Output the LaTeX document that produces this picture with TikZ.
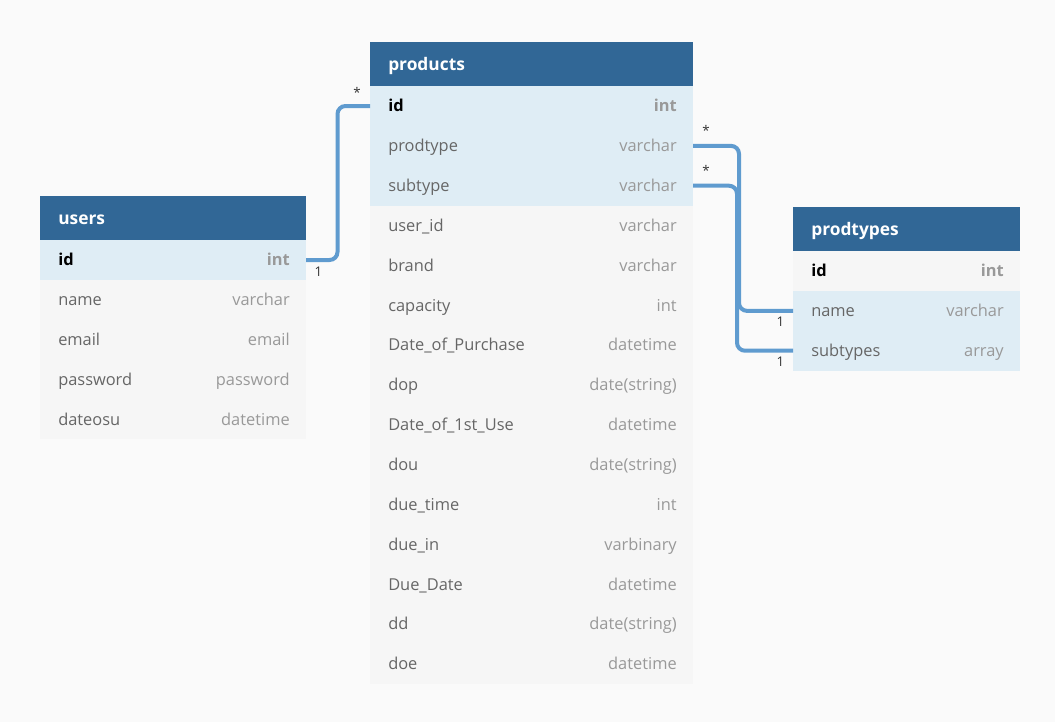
\documentclass[tikz,border=0pt]{standalone}
\usepackage{fontspec}
\setmainfont{Open Sans}
\usetikzlibrary{calc}
\definecolor{hdrc}{HTML}{316796}
\definecolor{hl}{HTML}{DFEDF5}
\definecolor{nr}{HTML}{F6F6F6}
\definecolor{bgc}{HTML}{FAFAFA}
\definecolor{linec}{HTML}{5F9BCF}
\definecolor{namec}{HTML}{666666}
\definecolor{typec}{HTML}{999999}
\newcommand\dbtbl[6]{%
  \node[hdrbox, minimum width=#4] (#1-hdr) at (#2,#3) {};
  \node[tbltitle] (#1-title) at ($(#1-hdr.west)+(18,6)$) {#5};
  \foreach [count=\i] \k/\n/\t/\f/\p in {#6} {
    \node[rowbox, minimum width=#4, fill=\f] (#1-\k) at (#2,{#3+44+39.86*(\i-1)}) {};
    \node[\p N] (#1-\k-n) at ($(#1-\k.west)+(18,5.8)$) {\n};
    \node[\p T] (#1-\k-t) at ($(#1-\k.east)+(-16,5.8)$) {\t};
  }%
}
\begin{document}
\begin{tikzpicture}[x=0.75pt,y=-0.75pt,
  rowbox/.style={rectangle, inner sep=0, outer sep=0, minimum height=30pt, anchor=north west, draw=none},
  hdrbox/.style={rectangle, inner sep=0, outer sep=0, minimum height=33pt, anchor=north west, fill=hdrc, draw=none},
  tbltitle/.style={anchor=base west, inner sep=0, text=white, font=\bfseries\fontsize{13}{15}\selectfont},
  pkN/.style={anchor=base west, inner sep=0, text=black, font=\bfseries\fontsize{12.3}{15}\selectfont},
  pkT/.style={anchor=base east, inner sep=0, text=typec, font=\bfseries\fontsize{12.3}{15}\selectfont},
  fN/.style={anchor=base west, inner sep=0, text=namec, font=\fontsize{12.3}{15}\selectfont},
  fT/.style={anchor=base east, inner sep=0, text=typec, font=\fontsize{12.3}{15}\selectfont},
  conn/.style={draw=linec, line width=3pt, rounded corners=6pt},
  card/.style={anchor=base, inner sep=0, text=black!80, font=\fontsize{10}{12}\selectfont}
]
\fill[bgc, use as bounding box] (0,0) rectangle (1055,722);

\dbtbl{u}{40}{196}{199.5pt}{users}{%
  id/id/int/hl/pk,
  name/name/varchar/nr/f,
  email/email/email/nr/f,
  password/password/password/nr/f,
  dateosu/dateosu/datetime/nr/f}

\dbtbl{p}{370}{42}{242.25pt}{products}{%
  id/id/int/hl/pk,
  prodtype/prodtype/varchar/hl/f,
  subtype/subtype/varchar/hl/f,
  userid/user\_id/varchar/nr/f,
  brand/brand/varchar/nr/f,
  capacity/capacity/int/nr/f,
  dopur/Date\_of\_Purchase/datetime/nr/f,
  dop/dop/date(string)/nr/f,
  dofu/Date\_of\_1st\_Use/datetime/nr/f,
  dou/dou/date(string)/nr/f,
  duetime/due\_time/int/nr/f,
  duein/due\_in/varbinary/nr/f,
  duedate/Due\_Date/datetime/nr/f,
  dd/dd/date(string)/nr/f,
  doe/doe/datetime/nr/f}

\dbtbl{t}{793}{207}{170.25pt}{prodtypes}{%
  id/id/int/nr/pk,
  name/name/varchar/hl/f,
  subtypes/subtypes/array/hl/f}

\draw[conn] (u-id.east) -- ($(u-id.east)+(31.5,0)$) |- (p-id.west);
\draw[conn] (p-prodtype.east) -- ($(p-prodtype.east)+(46,0)$) |- (t-name.west);
\draw[conn] (p-subtype.east) -- ($(p-subtype.east)+(44,0)$) |- (t-subtypes.west);

\node[card] (c1) at ($(u-id.east)+(12.5,16)$) {1};
\node[card] (c2) at ($(p-id.west)+(-13,-9)$) {*};
\node[card] (c3) at ($(p-prodtype.east)+(13,-10)$) {*};
\node[card] (c4) at ($(p-subtype.east)+(13,-10)$) {*};
\node[card] (c5) at ($(t-name.west)+(-12.5,16)$) {1};
\node[card] (c6) at ($(t-subtypes.west)+(-12.5,16)$) {1};
\end{tikzpicture}
\end{document}
